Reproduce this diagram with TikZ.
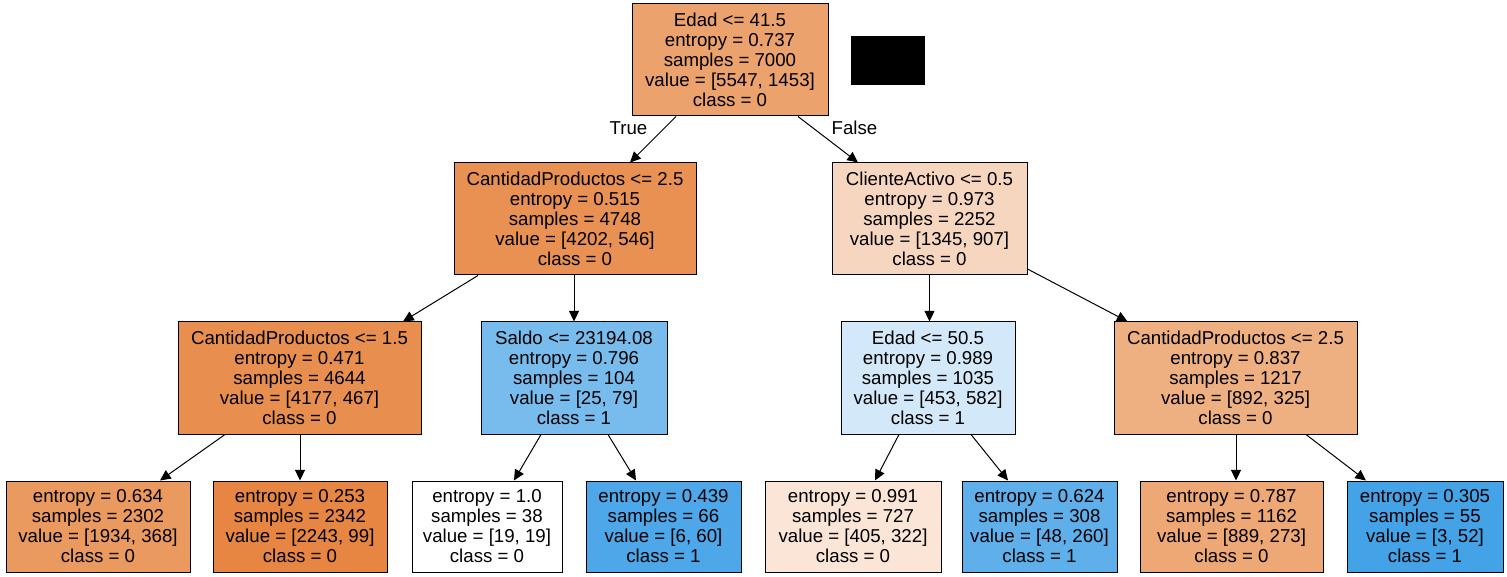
\documentclass[tikz,border=0pt]{standalone}
\usepackage{fontspec}
\setmainfont{Liberation Sans}
\usetikzlibrary{arrows.meta,calc}

% node fill colours (class 0 = orange, class 1 = blue, shaded by purity)
\definecolor{cRoot}{HTML}{ECA26D}
\definecolor{cLa}{HTML}{E89153}
\definecolor{cLb}{HTML}{F7D6BF}
\definecolor{cA}{HTML}{E88F4F}
\definecolor{cB}{HTML}{78BCED}
\definecolor{cC}{HTML}{D3E9F9}
\definecolor{cD}{HTML}{EEAF81}
\definecolor{cLf1}{HTML}{EA995F}
\definecolor{cLf2}{HTML}{E68642}
\definecolor{cLf3}{HTML}{FFFFFF}
\definecolor{cLf4}{HTML}{4DA7E8}
\definecolor{cLf5}{HTML}{FAE5D6}
\definecolor{cLf6}{HTML}{5EAFEA}
\definecolor{cLf7}{HTML}{EDA876}
\definecolor{cLf8}{HTML}{44A2E6}

\tikzset{
  treenode/.style={draw=black, line width=0.75pt, rectangle, inner sep=0pt,
    align=center, font=\fontsize{14}{15}\selectfont, minimum height=84pt},
  leafnode/.style={treenode, minimum height=68.25pt},
  edgelabel/.style={font=\fontsize{14}{15}\selectfont, inner sep=0pt},
  arr/.style={draw=black, line width=0.75pt, -{Triangle[length=8pt,width=7.5pt]}}
}

\begin{document}
\begin{tikzpicture}[x=0.75pt,y=-0.75pt]
\useasboundingbox (0,0) rectangle (1507,577);
\fill[white] (0,0) rectangle (1507,577);

% root
\node[treenode, fill=cRoot, minimum width=147pt] (root) at (730,60)
  {Edad <= 41.5\\entropy = 0.737\\samples = 7000\\value = [5547, 1453]\\class = 0};
\node[fill=black, draw=black, minimum width=54.75pt, minimum height=36pt, inner sep=0pt] (mask) at (887.5,60) {};

% level 1
\node[treenode, fill=cLa, minimum width=181.5pt] (La) at (575,219)
  {CantidadProductos <= 2.5\\entropy = 0.515\\samples = 4748\\value = [4202, 546]\\class = 0};
\node[treenode, fill=cLb, minimum width=146.25pt] (Lb) at (929.5,219)
  {ClienteActivo <= 0.5\\entropy = 0.973\\samples = 2252\\value = [1345, 907]\\class = 0};

% level 2
\node[treenode, fill=cA, minimum width=182.25pt] (A) at (299.5,378)
  {CantidadProductos <= 1.5\\entropy = 0.471\\samples = 4644\\value = [4177, 467]\\class = 0};
\node[treenode, fill=cB, minimum width=139.5pt] (B) at (574,378)
  {Saldo <= 23194.08\\entropy = 0.796\\samples = 104\\value = [25, 79]\\class = 1};
\node[treenode, fill=cC, minimum width=130.5pt] (C) at (928,378)
  {Edad <= 50.5\\entropy = 0.989\\samples = 1035\\value = [453, 582]\\class = 1};
\node[treenode, fill=cD, minimum width=182.25pt] (D) at (1235.5,378)
  {CantidadProductos <= 2.5\\entropy = 0.837\\samples = 1217\\value = [892, 325]\\class = 0};

% leaves
\node[leafnode, fill=cLf1, minimum width=138pt] (f1) at (98,526.5)
  {entropy = 0.634\\samples = 2302\\value = [1934, 368]\\class = 0};
\node[leafnode, fill=cLf2, minimum width=130.5pt] (f2) at (300,526.5)
  {entropy = 0.253\\samples = 2342\\value = [2243, 99]\\class = 0};
\node[leafnode, fill=cLf3, minimum width=112.5pt] (f3) at (487,526.5)
  {entropy = 1.0\\samples = 38\\value = [19, 19]\\class = 0};
\node[leafnode, fill=cLf4, minimum width=116.25pt] (f4) at (663.5,526.5)
  {entropy = 0.439\\samples = 66\\value = [6, 60]\\class = 1};
\node[leafnode, fill=cLf5, minimum width=132pt] (f5) at (853,526.5)
  {entropy = 0.991\\samples = 727\\value = [405, 322]\\class = 0};
\node[leafnode, fill=cLf6, minimum width=116.25pt] (f6) at (1039.5,526.5)
  {entropy = 0.624\\samples = 308\\value = [48, 260]\\class = 1};
\node[leafnode, fill=cLf7, minimum width=137.25pt] (f7) at (1231.5,526.5)
  {entropy = 0.787\\samples = 1162\\value = [889, 273]\\class = 0};
\node[leafnode, fill=cLf8, minimum width=117pt] (f8) at (1425,526.5)
  {entropy = 0.305\\samples = 55\\value = [3, 52]\\class = 1};

% edges
\draw[arr] ($(root.south)+(-54,0)$) -- ($(La.north)+(55,0)$);
\draw[arr] ($(root.south)+(68,0)$) -- ($(Lb.north)+(-71.5,0)$);
\node[edgelabel] (tlabel) at (628.5,128) {True};
\node[edgelabel] (flabel) at (854.5,128) {False};

\draw[arr] ($(La.south)+(-97,0)$) -- ($(A.north)+(103.5,0)$);
\draw[arr] ($(La.south)+(-1,0)$) -- (B.north);
\draw[arr] (Lb.south) -- ($(C.north)+(1.5,0)$);
\draw[arr] ($(Lb.east)+(0,50)$) -- ($(D.north)+(-108,0)$);

\draw[arr] ($(A.south)+(-74.5,0)$) -- ($(f1.north)+(62,0)$);
\draw[arr] ($(A.south)+(0.5,0)$) -- (f2.north);
\draw[arr] ($(B.south)+(-33,0)$) -- ($(f3.north)+(27,0)$);
\draw[arr] ($(B.south)+(34,0)$) -- ($(f4.north)+(-27.5,0)$);
\draw[arr] ($(C.south)+(-29,0)$) -- ($(f5.north)+(22,0)$);
\draw[arr] ($(C.south)+(43,0)$) -- ($(f6.north)+(-31.5,0)$);
\draw[arr] ($(D.south)+(0.5,0)$) -- ($(f7.north)+(4.5,0)$);
\draw[arr] ($(D.south)+(70.5,0)$) -- ($(f8.north)+(-59,0)$);
\end{tikzpicture}
\end{document}
